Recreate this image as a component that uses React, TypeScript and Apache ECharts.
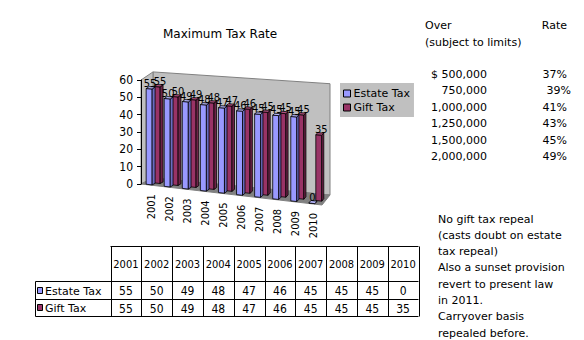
import React, { useEffect, useRef } from 'react';
import * as echarts from 'echarts';

// ---- data ----
const categories = ['2001', '2002', '2003', '2004', '2005', '2006', '2007', '2008', '2009', '2010'];
const estateTax = [55, 50, 49, 48, 47, 46, 45, 45, 45, 0];
const giftTax = [55, 50, 49, 48, 47, 46, 45, 45, 45, 35];
const seriesNames = ['Estate Tax', 'Gift Tax'];
const yMin = 0;
const yMax = 60;
const yStep = 10;
const chartTitle = 'Maximum Tax Rate';

const rateHeaderLeft = 'Over';
const rateHeaderRight = 'Rate';
const rateSubHeader = '(subject to limits)';
const thresholds = ['$ 500,000', '750,000', '1,000,000', '1,250,000', '1,500,000', '2,000,000'];
const rates = ['37%', '39%', '41%', '43%', '45%', '49%'];
const notes = [
  'No gift tax repeal',
  '(casts doubt on estate',
  'tax repeal)',
  'Also a sunset provision',
  'revert to present law',
  'in 2011.',
  'Carryover basis',
  'repealed before.',
];

// ---- styles ----
const FONT = 'DejaVu Sans';
const NUMFONT = "'DejaVu Sans Condensed', 'Liberation Sans', sans-serif";
const COLORS: Record<string, { front: string; side: string; top: string }> = {
  estate: { front: '#9999FF', side: '#6B6BC0', top: '#B8B8FF' },
  gift: { front: '#993366', side: '#6E2449', top: '#B5507F' },
};

function projector(cs: any) {
  const L = cs.x;
  const W = cs.width;
  const B = cs.y + cs.height;
  return (X: number, V: number, d: number): number[] => {
    const u = (X - L) / W;
    const s = 1 + 0.1 * u + 0.02 * d - 0.05 * u * d;
    return [X + (12 - 4 * u) * d, B + 0.116 * W * u - V * s + (-6 - 4 * u) * d];
  };
}

function poly(points: number[][], fill: string, stroke = '#000', lineWidth = 0.8) {
  return { type: 'polygon', shape: { points }, style: { fill, stroke, lineWidth } };
}

function barRenderer(
  key: string,
  xOff0: number,
  xOff1: number,
  d0: number,
  d1: number,
  labelShift: number,
  withCat: boolean
) {
  return (params: any, api: any) => {
    const i = api.value(0);
    const v = api.value(1);
    const P = projector(params.coordSys);
    const top = api.coord([i, v]);
    const base = api.coord([i, 0]);
    const X = top[0];
    const V = base[1] - top[1];
    const x0 = X + xOff0;
    const x1 = X + xOff1;
    const c = COLORS[key];
    const children: any[] = [
      poly([P(x0, 0, d0), P(x1, 0, d0), P(x1, V, d0), P(x0, V, d0)], c.front),
      poly([P(x1, 0, d0), P(x1, 0, d1), P(x1, V, d1), P(x1, V, d0)], c.side),
      poly([P(x0, V, d0), P(x1, V, d0), P(x1, V, d1), P(x0, V, d1)], c.top),
    ];
    const lp = P((x0 + x1) / 2, V, (d0 + d1) / 2);
    children.push({
      type: 'text',
      x: lp[0] + labelShift,
      y: lp[1] + 1,
      z2: 50,
      style: { text: String(v), fill: '#000', fontSize: 11, fontFamily: NUMFONT, align: 'center', verticalAlign: 'bottom' },
    });
    if (withCat) {
      const bp = P(X + 1, 0, 0);
      children.push({
        type: 'text',
        x: bp[0],
        y: bp[1] + 9,
        rotation: Math.PI / 2,
        style: { text: categories[i], fill: '#000', fontSize: 11, fontFamily: NUMFONT, align: 'right', verticalAlign: 'middle' },
      });
    }
    return { type: 'group', children };
  };
}

function wallRenderer(params: any, api: any) {
  const cs = params.coordSys;
  const P = projector(cs);
  const L = cs.x;
  const R = cs.x + cs.width;
  const H = api.coord([0, yMin])[1] - api.coord([0, yMax])[1];
  return {
    type: 'group',
    children: [
      poly([P(L, 0, 1), P(L, H, 1), P(R, H, 1), P(R, 0, 1)], '#C0C0C0', '#808080', 1),
      poly([P(L, 0, 0), P(L, H, 0), P(L, H, 1), P(L, 0, 1)], '#C0C0C0', '#808080', 1),
      poly([P(L, 0, 0), P(R, 0, 0), P(R, 0, 1), P(L, 0, 1)], '#808080', '#808080', 1),
    ],
  };
}

function buildGraphics() {
  const els: any[] = [];
  const txt = (x: number, y: number, text: string, align = 'left', font = FONT, size = 11) => ({
    type: 'text',
    x,
    y,
    style: { text, fill: '#000', fontSize: size, fontFamily: font, align, verticalAlign: 'middle' },
  });
  const line = (x1: number, y1: number, x2: number, y2: number) => ({
    type: 'line',
    shape: { x1, y1, x2, y2 },
    style: { stroke: '#000', lineWidth: 1 },
  });

  // data table
  const tL = 110.5;
  const cw = 30.8;
  const tR = tL + cw * categories.length;
  const tT = 246.5;
  const hB = 281.5;
  const r1B = 299.5;
  const tB = 316.5;
  const lblL = 35.5;
  els.push(line(tL, tT, tR, tT));
  els.push(line(lblL, hB, tR, hB));
  els.push(line(lblL, r1B, tR, r1B));
  els.push(line(lblL, tB, tR, tB));
  els.push(line(lblL, hB, lblL, tB));
  for (let k = 0; k <= categories.length; k++) {
    const x = Math.round(tL + k * cw) + 0.5;
    els.push(line(x, tT, x, tB));
  }
  categories.forEach((c, k) => {
    const cx = tL + (k + 0.5) * cw;
    els.push(txt(cx, (tT + hB) / 2, c, 'center', NUMFONT));
    els.push(txt(cx, (hB + r1B) / 2 + 0.5, String(estateTax[k]), 'center', NUMFONT, 12));
    els.push(txt(cx, (r1B + tB) / 2 + 0.5, String(giftTax[k]), 'center', NUMFONT, 12));
  });
  const rowY = [(hB + r1B) / 2, (r1B + tB) / 2];
  const rowCol = [COLORS.estate.front, COLORS.gift.front];
  seriesNames.forEach((n, r) => {
    els.push({
      type: 'rect',
      shape: { x: 37.5, y: Math.round(rowY[r]) - 3.5, width: 5, height: 6 },
      style: { fill: rowCol[r], stroke: '#000', lineWidth: 1 },
    });
    els.push(txt(45, rowY[r] + 0.5, n));
  });

  // rate schedule
  els.push(txt(425, 25, rateHeaderLeft));
  els.push(txt(567, 25, rateHeaderRight, 'right'));
  els.push(txt(425, 42, rateSubHeader));
  thresholds.forEach((t, k) => {
    const y = 74 + k * 16.5;
    els.push(txt(487, y, t, 'right'));
    els.push(txt(k === 1 ? 571 : 567, y, rates[k], 'right'));
  });

  // notes
  notes.forEach((n, k) => {
    els.push(txt(438, 219 + k * 16.3, n));
  });
  return els;
}

export default function App() {
  const ref = useRef<HTMLDivElement>(null);
  useEffect(() => {
    if (!ref.current) return;
    const chart = echarts.init(ref.current, undefined, { renderer: 'svg' });
    const option: any = {
      animation: false,
      backgroundColor: '#fff',
      textStyle: { fontFamily: FONT },
      title: {
        text: chartTitle,
        left: 163,
        top: 28,
        padding: 0,
        textStyle: { fontSize: 12, fontWeight: 'normal', color: '#000', fontFamily: FONT },
      },
      legend: {
        data: seriesNames,
        left: 340,
        top: 83,
        orient: 'vertical',
        backgroundColor: '#C0C0C0',
        padding: [5, 4, 4, 3],
        itemGap: 3,
        itemWidth: 7,
        itemHeight: 7,
        icon: 'rect',
        selectedMode: false,
        itemStyle: { borderColor: '#000', borderWidth: 1 },
        textStyle: { fontSize: 11, color: '#000', fontFamily: FONT, padding: [0, 0, 0, -2] },
      },
      grid: { left: 141, top: 80, width: 181, height: 104 },
      xAxis: { type: 'category', data: categories, show: false },
      yAxis: {
        type: 'value',
        min: yMin,
        max: yMax,
        interval: yStep,
        z: 10,
        axisLine: { show: true, lineStyle: { color: '#000', width: 1 } },
        axisTick: { show: true, length: 4, lineStyle: { color: '#000' } },
        axisLabel: { color: '#000', fontSize: 12, fontFamily: NUMFONT, margin: 8 },
        splitLine: { show: false },
      },
      series: [
        { type: 'custom', name: 'wall', silent: true, z: 1, data: [[0, yMax]], renderItem: wallRenderer },
        {
          type: 'custom',
          name: seriesNames[1],
          z: 2,
          itemStyle: { color: COLORS.gift.front },
          data: giftTax.map((v, i) => [i, v]),
          encode: { x: 0, y: 1 },
          renderItem: barRenderer('gift', 0, 6, 0.35, 0.6, 1.5, false),
        },
        {
          type: 'custom',
          name: seriesNames[0],
          z: 3,
          itemStyle: { color: COLORS.estate.front },
          data: estateTax.map((v, i) => [i, v]),
          encode: { x: 0, y: 1 },
          renderItem: barRenderer('estate', -4.5, 1.5, 0.05, 0.3, -0.5, true),
        },
      ],
      graphic: { elements: buildGraphics() },
    };
    chart.setOption(option);
    return () => chart.dispose();
  }, []);
  return (
    <div
      ref={ref}
      style={{ position: 'fixed', left: 0, top: 0, width: 584, height: 340, background: '#fff' }}
    />
  );
}
